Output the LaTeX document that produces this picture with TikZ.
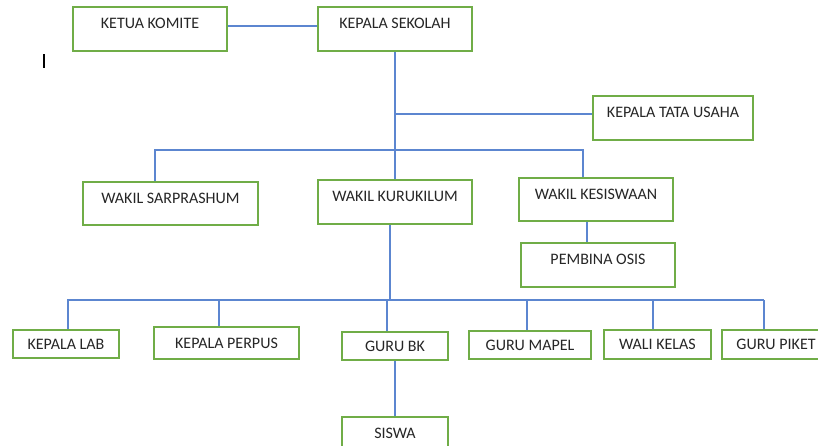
\documentclass[tikz,border=0pt]{standalone}
\usepackage{fontspec}
\setmainfont{Carlito}
\usepackage{xcolor}
\definecolor{boxgreen}{RGB}{112,173,71}
\definecolor{linkblue}{RGB}{92,134,208}
\definecolor{textgray}{RGB}{38,38,38}
\usetikzlibrary{calc}

\begin{document}
\begin{tikzpicture}[x=0.75pt, y=-0.75pt,
    sz/.style 2 args={minimum width=#1*0.75pt, minimum height=#2*0.75pt},
    unitbox/.style={draw=boxgreen, line width=1.5pt, fill=white, inner sep=0pt,
      font=\fontsize{12}{14}\selectfont, text=textgray, text height=8pt, text depth=8.75pt},
    staffbox/.style={unitbox, text depth=0.3pt},
    link/.style={draw=linkblue, line width=0.8pt}]
  \useasboundingbox (0,0) rectangle (818,446);
  \clip (0,0) rectangle (818,446);

  \node[unitbox, sz={154}{44}] (komite)     at (150,29)    {KETUA KOMITE};
  \node[unitbox, sz={154}{44}] (kepsek)     at (395,29)    {KEPALA SEKOLAH};
  \node[unitbox, sz={160}{44}] (tatausaha)  at (673,118)   {KEPALA TATA USAHA};
  \node[unitbox, sz={175}{43}] (sarpras)    at (170.5,203.5) {WAKIL SARPRASHUM};
  \node[unitbox, sz={154}{44}] (kurikulum)  at (395,202)   {WAKIL KURUKILUM};
  \node[unitbox, sz={154}{43}] (kesiswaan)  at (596,199.5) {WAKIL KESISWAAN};
  \node[unitbox, sz={154}{44}] (osis)       at (598,265)   {PEMBINA OSIS};

  \node[staffbox, sz={106}{28}] (lab)       at (66,344)    {KEPALA LAB};
  \node[staffbox, sz={145}{32}] (perpus)    at (226.5,343) {KEPALA PERPUS};
  \node[staffbox, sz={106}{28}] (gurubk)    at (395,346)   {GURU BK};
  \node[staffbox, sz={122}{28}] (mapel)     at (530,345)   {GURU MAPEL};
  \node[staffbox, sz={107}{29}] (walikelas) at (657.5,344.5) {WALI KELAS};
  \node[staffbox, sz={108}{29}] (piket)     at (776,344.5) {GURU PIKET};
  \node[staffbox, sz={106}{33}] (siswa)     at (395,433.5) {SISWA};

  \coordinate (tu)   at (395,114);
  \coordinate (wl)   at (155,150);
  \coordinate (wr)   at (583,150);
  \coordinate (bar)  at (390,300);
  \coordinate (barl) at (67,300);
  \coordinate (barr) at (764,300);

  \draw[link] ($(komite.east)+(0,-3)$) -- ($(kepsek.west)+(0,-3)$);
  \draw[link] (kepsek.south) -- (kurikulum.north);
  \draw[link] (tu) -- (tu -| tatausaha.west);
  \draw[link] (wl |- sarpras.north) -- (wl) -- (wr) -- (wr |- kesiswaan.north);
  \draw[link] ($(kesiswaan.south)+(-9,0)$) -- ($(kesiswaan.south |- osis.north)+(-9,0)$);
  \draw[link] ($(kurikulum.south)+(-5,0)$) -- (bar);
  \draw[link] (barl) -- (barr);
  \foreach \n/\dx in {lab/2, perpus/-7.5, gurubk/-8, mapel/-3, walikelas/-4.5, piket/-12}
    \draw[link] ($(\n.north)+(\dx,0)$) -- ($(\n.north |- bar)+(\dx,0)$);
  \draw[link] (gurubk.south) -- (siswa.north);

  \draw[black, line width=0.8pt] (44,54) -- (44,68);
\end{tikzpicture}
\end{document}
